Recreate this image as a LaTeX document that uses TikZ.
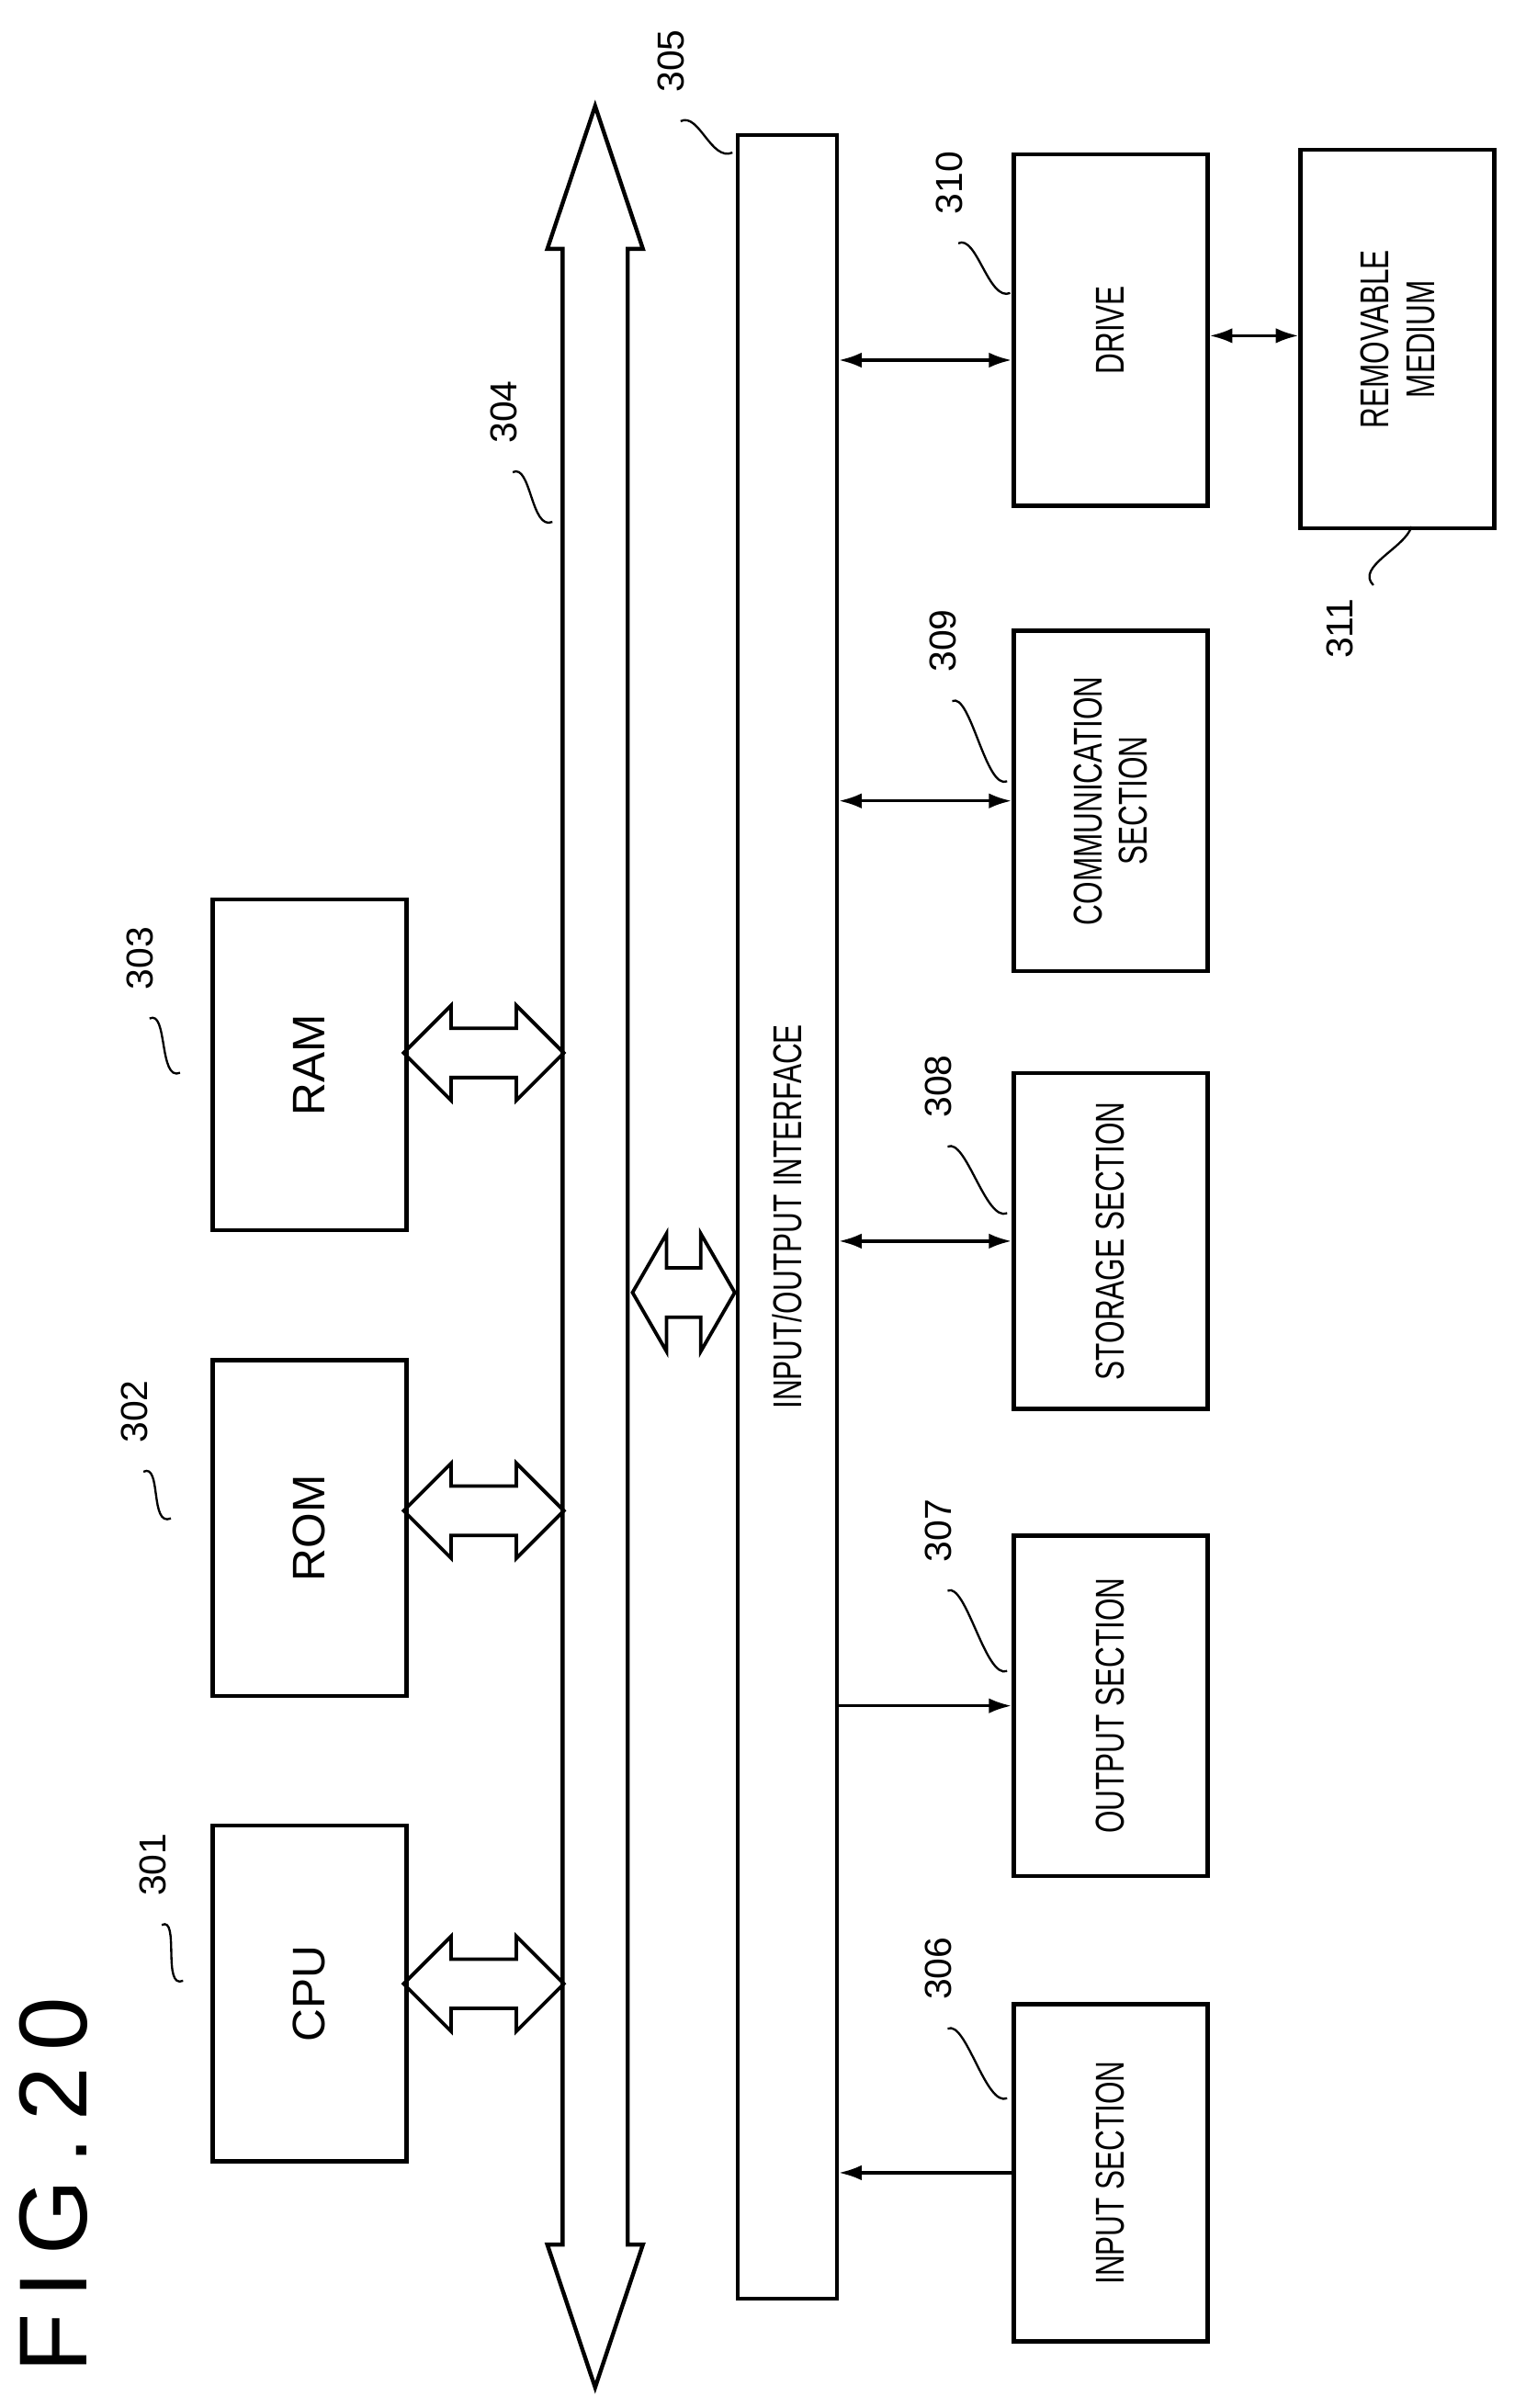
\documentclass[tikz,border=0pt]{standalone}
\usepackage{fontspec}
\setmainfont{Liberation Sans}
\usetikzlibrary{shapes.arrows, arrows.meta, positioning, calc}
\newcommand{\cond}[1]{\scalebox{0.72}[1]{#1}}
\begin{document}
\begin{tikzpicture}[x=0.2mm, y=-0.2mm, >={Latex[length=3mm,width=2mm]}, line width=1.2pt,
    box/.style={draw, line width=1.5pt, minimum width=25.4mm, anchor=north west},
    lbl/.style={rotate=90, font=\fontsize{17}{19}\selectfont},
    slbl/.style={rotate=90, font=\fontsize{15}{17}\selectfont, align=center},
    num/.style={rotate=90, font=\fontsize{14}{16}\selectfont},
    hollow/.style={double arrow, draw, line width=1.3pt, inner xsep=0pt, inner ysep=3mm,
      double arrow head extend=3mm, double arrow tip angle=90, double arrow head indent=0pt},
    squig/.style={line width=0.8pt}]
  \useasboundingbox (0,0) rectangle (1000,1578);
  % Title
  \node[rotate=90, font=\fontsize{36}{38}\selectfont] (title) at (35,1432) {F\,I\,G\,.\,2\,0};

  % Bus
  \node[double arrow, draw, line width=1.5pt, rotate=90, inner xsep=0pt, inner ysep=4mm,
    minimum height=299mm, double arrow head extend=2mm, double arrow tip angle=37,
    double arrow head indent=0pt] (bus) at (390,817) {};
  \node[num] (n304) at (330,270) {304};

  % Left blocks
  \node[box, minimum height=44mm] (cpu) at (138,1195) {};
  \node[lbl] at (cpu.center) {CPU};
  \node[box, minimum height=44mm] (rom) at (138,890) {};
  \node[lbl] at (rom.center) {ROM};
  \node[box, minimum height=43.4mm] (ram) at (138,588) {};
  \node[lbl] at (ram.center) {RAM};
  \node[num] (n301) at (100,1222) {301};
  \node[num] (n302) at (88,925) {302};
  \node[num] (n303) at (92,628) {303};

  % I/O interface
  \node[box, minimum width=13mm, minimum height=283.6mm] (io) at (482,87) {};
  \node[slbl] at (io.center) {\cond{INPUT/OUTPUT INTERFACE}};
  \node[num] (n305) at (440,40) {305};

  % Right blocks
  \node[box, minimum height=46mm] (drive) at (663,100) {};
  \node[slbl] at (drive.center) {\cond{DRIVE}};
  \node[box, minimum height=44.6mm] (comm) at (663,412) {};
  \node[slbl] at (comm.center) {\cond{COMMUNICATION}\\\cond{SECTION}};
  \node[box, minimum height=44mm] (stor) at (663,702) {};
  \node[slbl] at (stor.center) {\cond{STORAGE SECTION}};
  \node[box, minimum height=44.6mm] (outp) at (663,1005) {};
  \node[slbl] at (outp.center) {\cond{OUTPUT SECTION}};
  \node[box, minimum height=44.2mm] (inp) at (663,1312) {};
  \node[slbl] at (inp.center) {\cond{INPUT SECTION}};
  \node[box, minimum height=49.6mm] (rem) at (851,97) {};
  \node[slbl] at (rem.center) {\cond{REMOVABLE}\\\cond{MEDIUM}};
  \node[num] (n310) at (622,120) {310};
  \node[num] (n309) at (618,420) {309};
  \node[num] (n308) at (615,712) {308};
  \node[num] (n307) at (615,1003) {307};
  \node[num] (n306) at (615,1290) {306};
  \node[num] (n311) at (878,412) {311};

  % Hollow bus arrows
  \node[hollow, minimum height=21mm] (a1) at (317,1300) {};
  \node[hollow, minimum height=21mm] (a2) at (317,990) {};
  \node[hollow, minimum height=21mm] (a3) at (317,690) {};
  \node[hollow, minimum height=13.4mm, double arrow head extend=4.5mm,
    double arrow tip angle=120] (a4) at (448,847) {};

  % Connectors
  \draw[<->] (io.east |- 0,236) -- (drive.west |- 0,236);
  \draw[<->] (io.east |- comm.west) -- (comm.west);
  \draw[<->] (io.east |- stor.west) -- (stor.west);
  \draw[->] (io.east |- outp.west) -- (outp.west);
  \draw[->] (inp.west) -- (io.east |- inp.west);
  \draw[<->] (drive.east |- 0,220) -- (rem.west |- 0,220);

  % Reference squiggles
  \foreach \p/\q in {n301/{120,1298}, n302/{112,995}, n303/{118,703}, n304/{362,342},
                     n305/{480,100}, n310/{662,192}, n309/{660,512}, n308/{660,795},
                     n307/{660,1095}, n306/{660,1375}}
    \draw[squig] ($(\p.west)+(6,12)$) .. controls +(12,-6) and +(-14,6) .. (\q);
  \draw[squig] ($(n311.east)+(22,-2)$) .. controls +(-12,-12) and +(-4,14) .. (925,345);
\end{tikzpicture}
\end{document}
